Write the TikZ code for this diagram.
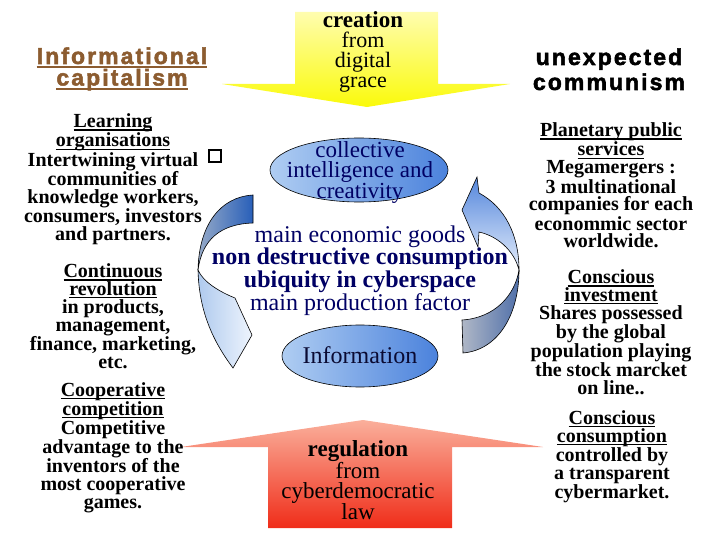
\documentclass[tikz,border=0pt]{standalone}
\usepackage{fontspec}
\setmainfont{Liberation Serif}
\newfontfamily\titlefont[LetterSpace=9,FakeBold=2.2]{Liberation Sans Bold}
\usetikzlibrary{shapes.geometric}
\definecolor{brownT}{RGB}{140,92,48}
\definecolor{navyT}{RGB}{0,0,100}
\definecolor{infoC}{RGB}{10,10,50}
\definecolor{yelTop}{RGB}{255,253,175}
\definecolor{yelBot}{RGB}{250,250,10}
\definecolor{redTop}{RGB}{250,175,155}
\definecolor{redBot}{RGB}{240,45,25}
\definecolor{ellL}{RGB}{175,205,242}
\definecolor{ellM}{RGB}{205,224,250}
\definecolor{ellR}{RGB}{75,130,220}
\definecolor{bandDarkL}{RGB}{150,170,200}
\definecolor{bandDarkR}{RGB}{40,95,185}
\definecolor{bandLightA}{RGB}{175,202,238}
\definecolor{bandLightB}{RGB}{238,244,253}
\definecolor{bandHeadT}{RGB}{85,135,220}
\definecolor{bandHeadB}{RGB}{228,237,251}
\definecolor{bandGrayL}{RGB}{175,183,198}
\definecolor{bandGrayR}{RGB}{80,112,170}
\newcommand\tb[2]{\parbox[t]{#1}{\centering #2}}
\newcommand\myul[3][3pt]{\setbox0=\hbox{#3}\leavevmode\rlap{\rule[-#1]{\wd0}{#2}}\box0}
\newcommand\blockfont{\bfseries\fontsize{20}{17.8}\selectfont}
\tikzset{
  band/.style={draw=black, line width=0.6pt},
  ell/.style={ellipse, draw=black, line width=0.6pt, left color=ellL, middle color=ellM, right color=ellR},
  txt/.style={anchor=base, inner sep=0pt, outer sep=0pt},
}
\begin{document}
\begin{tikzpicture}[x=1pt,y=-1pt]
\useasboundingbox (0,0) rectangle (720,540);

% yellow arrow (down)
\shade[top color=yelTop, bottom color=yelBot]
  (295,12) -- (438,12) -- (438,84) -- (510,84) -- (367,107) -- (222,84) -- (295,84) -- cycle;
% red arrow (up)
\shade[top color=redTop, bottom color=redBot]
  (268,528) -- (268,447) -- (181,447) -- (363,420) -- (543,447) -- (452,447) -- (452,528) -- cycle;

% left circular arrow
\shadedraw[band, left color=bandDarkL, right color=bandDarkR]
  (253,195) .. controls (220,197) and (199,225) .. (198,270)
  .. controls (202,240) and (220,224) .. (253,223) -- cycle;
\shadedraw[band, left color=bandLightA, right color=bandLightB]
  (198,270) .. controls (199,310) and (212,340) .. (233,368)
  -- (252,335) -- (235,298)
  .. controls (220,292) and (203,282) .. (198,270) -- cycle;

% right circular arrow
\shadedraw[band, left color=bandGrayL, right color=bandGrayR]
  (463,353) .. controls (498,350) and (519,315) .. (519,270)
  .. controls (515,295) and (495,318) .. (462,320) -- cycle;
\shadedraw[band, top color=bandHeadT, bottom color=bandHeadB]
  (519,270) .. controls (519,235) and (505,207) .. (479,193)
  -- (477,177) -- (462,210) -- (478,247) -- (479,232)
  .. controls (497,236) and (514,250) .. (519,270) -- cycle;

% ellipses
\node[ell, minimum width=178pt, minimum height=64pt] (collE) at (359,170) {};
\node[ell, minimum width=156pt, minimum height=62pt] (infoE) at (360,356) {};

% titles
\node[txt, text=brownT] (capT) at (122,64) {\tb{260pt}{\titlefont\fontsize{23}{21.5}\selectfont
  \myul[4.2pt]{2pt}{Informational}\\\myul[4.8pt]{2pt}{capitalism}}};
\node[txt] (commT) at (609,65) {\tb{260pt}{\titlefont\fontsize{23}{25}\selectfont
  unexpected\\communism}};

% arrow texts
\node[txt] (creaT) at (363,28) {\tb{150pt}{\fontsize{22}{20}\selectfont
  {\bfseries\fontsize{23}{20}\selectfont creation}\\from\\digital\\grace}};
\node[txt] (reguT) at (358,456) {\tb{200pt}{\fontsize{23}{19.8}\selectfont
  {\bfseries regulation}\\from\\cyberdemocratic\\law}};

% ellipse texts
\node[txt, text=navyT] (collT) at (360,158) {\tb{200pt}{\fontsize{23}{19.5}\selectfont
  collective\\intelligence and\\creativity}};
\node[txt, text=infoC] (infoT) at (360,363) {\tb{200pt}{\fontsize{24}{20}\selectfont Information}};

% centre text
\node[txt, text=navyT] (mainT) at (360,242) {\tb{330pt}{\fontsize{24}{19.4}\selectfont
  main economic goods\\{\bfseries non destructive consumption}\\{\bfseries ubiquity in cyberspace}\\main production factor}};

% left blocks
\node[txt] (learnT) at (113,127.7) {\tb{230pt}{\blockfont
  \myul{1.2pt}{Learning}\\\myul{1.2pt}{organisations}\\Intertwining virtual\\communities of\\knowledge workers,\\consumers, investors\\and partners.\\[17.8pt]
  \myul{1.2pt}{Continuous}\\\myul{1.2pt}{revolution}\\in products,\\management,\\finance, marketing,\\etc.}};
\node[draw=black, line width=2pt, minimum size=12pt, inner sep=0pt] (sq) at (215,156) {};
\node[txt] (coopT) at (113,396) {\tb{230pt}{\blockfont
  \myul{1.2pt}{Cooperative}\\\myul{1.2pt}{competition}\\Competitive\\advantage to the\\inventors of the\\most cooperative\\games.}};

% right blocks
\node[txt] (planT) at (611,136.7) {\tb{230pt}{\bfseries\fontsize{20}{17.85}\selectfont
  \myul{1.2pt}{Planetary public}\\\myul{1.2pt}{services}\\Megamergers :\\3 multinational\\companies for each\\econommic sector\\worldwide.\\[17.85pt]
  \myul{1.2pt}{Conscious}\\\myul{1.2pt}{investment}\\Shares possessed\\by the global\\population playing\\the stock marcket\\on line..}};
\node[txt] (consT) at (612,424.3) {\tb{230pt}{\bfseries\fontsize{20}{17.9}\selectfont
  \myul{1.2pt}{Conscious}\\\myul{1.2pt}{consumption}\\controlled by\\a transparent\\cybermarket.}};
\end{tikzpicture}
\end{document}
